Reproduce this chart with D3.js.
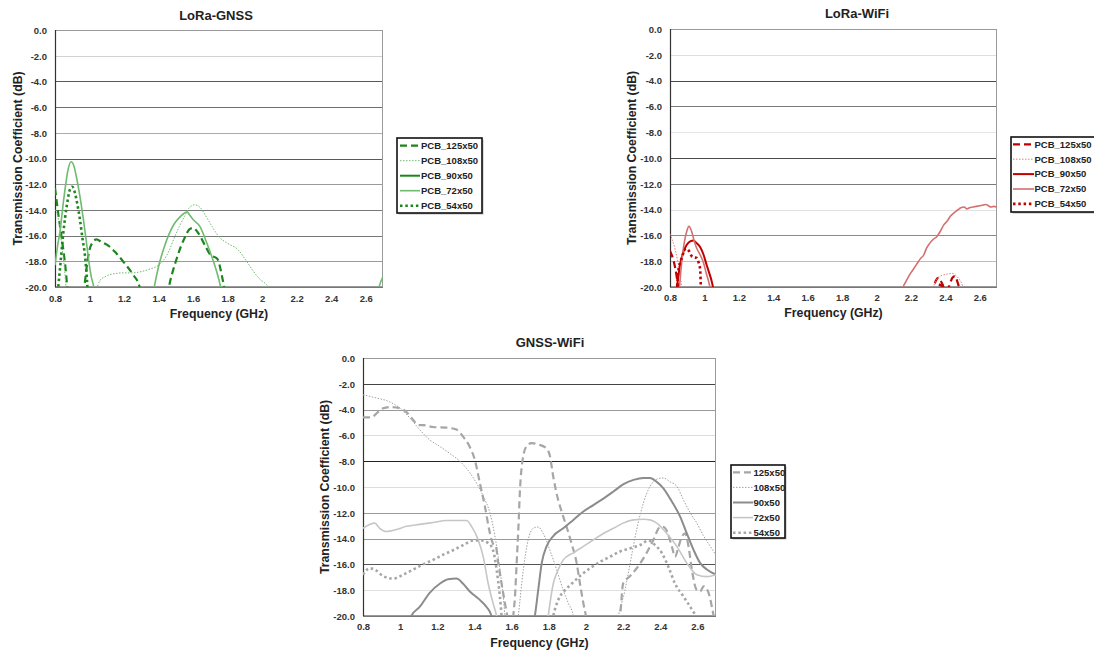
<!DOCTYPE html>
<html>
<head>
<meta charset="utf-8">
<script src="https://cdn.jsdelivr.net/npm/d3@7/dist/d3.min.js"></script>
<style>
  html, body { margin: 0; padding: 0; background: #fff; }
  svg { display: block; font-family: "Liberation Sans", Arial, sans-serif; }
</style>
</head>
<body>
<svg id="chart" width="1094" height="652"></svg>
<script>
// ---------- shared tick labels / categories ----------
const xTicks = [0.8, 1, 1.2, 1.4, 1.6, 1.8, 2, 2.2, 2.4, 2.6];
const xTickLabels = ["0.8", "1", "1.2", "1.4", "1.6", "1.8", "2", "2.2", "2.4", "2.6"];
const yTicks = [0, -2, -4, -6, -8, -10, -12, -14, -16, -18, -20];
const yTickLabels = ["0.0", "-2.0", "-4.0", "-6.0", "-8.0", "-10.0", "-12.0", "-14.0", "-16.0", "-18.0", "-20.0"];
const pcbNames = ["PCB_125x50", "PCB_108x50", "PCB_90x50", "PCB_72x50", "PCB_54x50"];
const shortNames = ["125x50", "108x50", "90x50", "72x50", "54x50"];

// ---------- LoRa-GNSS series: [GHz, dB] (values below -20 dB fall off the plot) ----------
const lgPCB125 = [[0.80,-12.3],[0.82,-14.4],[0.84,-16.3],[0.86,-18.4],[0.875,-20.5],[0.90,-22],[0.95,-22],[0.97,-20],[0.985,-18.3],[1.00,-17.1],[1.02,-16.5],[1.04,-16.3],[1.07,-16.5],[1.10,-16.7],[1.15,-17.3],[1.20,-18.1],[1.25,-19.0],[1.29,-20],[1.31,-21.5],[1.44,-21.5],[1.46,-20],[1.50,-18],[1.55,-16.2],[1.58,-15.5],[1.60,-15.4],[1.63,-15.8],[1.67,-16.8],[1.70,-17.5],[1.74,-17.8],[1.765,-19],[1.785,-20.5],[1.80,-22]];
const lgPCB108 = [[0.80,-14.0],[0.81,-14.2],[0.83,-15.6],[0.84,-16.9],[0.855,-18.6],[0.865,-20.3],[0.88,-22],[1.00,-22],[1.04,-20.2],[1.06,-19.5],[1.09,-19.2],[1.15,-18.95],[1.20,-18.9],[1.25,-18.9],[1.30,-18.8],[1.35,-18.6],[1.40,-18.3],[1.43,-17.9],[1.46,-17.2],[1.49,-16.2],[1.52,-15.3],[1.55,-14.5],[1.58,-13.8],[1.61,-13.6],[1.64,-13.8],[1.67,-14.4],[1.71,-15.3],[1.75,-16.1],[1.80,-16.6],[1.86,-17.1],[1.90,-17.8],[1.94,-18.6],[1.98,-19.3],[2.04,-20.1],[2.07,-21]];
const lgPCB90 = [[0.80,-23],[0.90,-21.5],[1.00,-23]];
const lgPCB72 = [[0.80,-18.3],[0.815,-16.8],[0.83,-15.6],[0.845,-13.8],[0.86,-12.2],[0.875,-10.9],[0.893,-10.25],[0.91,-10.6],[0.925,-11.5],[0.94,-12.6],[0.965,-14.8],[0.98,-16.3],[0.995,-17.9],[1.01,-19.2],[1.027,-20.2],[1.04,-22],[1.35,-22],[1.375,-20],[1.40,-18.4],[1.43,-17.0],[1.46,-15.9],[1.49,-15.1],[1.52,-14.6],[1.545,-14.3],[1.565,-14.15],[1.58,-14.4],[1.60,-14.75],[1.64,-15.3],[1.68,-16.6],[1.72,-18.1],[1.745,-19.2],[1.762,-20.2],[1.78,-22],[2.65,-22],[2.675,-20.1],[2.70,-19.2]];
const lgPCB54 = [[0.80,-22],[0.815,-20.5],[0.83,-18.4],[0.848,-15.8],[0.868,-13.7],[0.887,-12.4],[0.90,-12.2],[0.916,-12.7],[0.93,-13.6],[0.945,-14.8],[0.96,-16.3],[0.974,-17.6],[0.985,-19.4],[0.992,-21],[1.00,-22]];

// ---------- LoRa-WiFi series ----------
const lwPCB125 = [[0.80,-17.2],[0.815,-17.7],[0.83,-18.5],[0.84,-19.3],[0.85,-20.3],[0.87,-22],[2.31,-22],[2.33,-20.2],[2.345,-19.5],[2.36,-19.3],[2.38,-19.7],[2.40,-20.3],[2.42,-20.0],[2.44,-19.3],[2.455,-19.15],[2.47,-19.6],[2.485,-20.4],[2.50,-22]];
const lwPCB108 = [[0.80,-15.9],[0.815,-16.4],[0.83,-17.1],[0.845,-18.0],[0.858,-18.9],[0.868,-20.1],[0.88,-22],[2.31,-22],[2.33,-20.1],[2.35,-19.4],[2.38,-19.1],[2.41,-19.0],[2.44,-18.95],[2.46,-19.1],[2.48,-19.4],[2.50,-19.9],[2.51,-20.5],[2.53,-22]];
const lwPCB90 = [[0.80,-22],[0.83,-21],[0.84,-20],[0.858,-18.3],[0.875,-17.4],[0.89,-16.9],[0.905,-16.6],[0.92,-16.45],[0.936,-16.4],[0.955,-16.6],[0.975,-16.9],[0.995,-17.5],[1.013,-18.3],[1.03,-19.0],[1.043,-19.6],[1.052,-20.3],[1.06,-22]];
const lwPCB72 = [[0.84,-22],[0.855,-20],[0.87,-17.8],[0.885,-16.4],[0.897,-15.7],[0.91,-15.3],[0.926,-15.7],[0.94,-16.4],[0.955,-17.0],[0.975,-17.5],[0.994,-18.1],[1.01,-18.9],[1.025,-19.6],[1.035,-20.2],[1.05,-22],[2.13,-22],[2.155,-20],[2.17,-19.6],[2.19,-19.1],[2.21,-18.7],[2.235,-18.2],[2.255,-17.8],[2.275,-17.5],[2.29,-17.0],[2.31,-16.6],[2.33,-16.3],[2.35,-16.1],[2.37,-15.7],[2.39,-15.2],[2.41,-14.9],[2.43,-14.5],[2.45,-14.25],[2.47,-14.05],[2.49,-13.85],[2.51,-13.8],[2.525,-13.95],[2.54,-13.85],[2.56,-13.8],[2.58,-13.75],[2.60,-13.7],[2.62,-13.65],[2.635,-13.6],[2.65,-13.7],[2.665,-13.8],[2.68,-13.75],[2.70,-13.8]];
const lwPCB54 = [[0.83,-22],[0.84,-20.3],[0.848,-18.8],[0.862,-18.0],[0.877,-17.4],[0.893,-17.0],[0.91,-17.2],[0.926,-17.6],[0.94,-17.7],[0.955,-17.75],[0.968,-18.2],[0.975,-18.6],[0.98,-20.2],[0.99,-22],[2.35,-22],[2.365,-20.1],[2.375,-19.7],[2.385,-20.1],[2.395,-22]];

// ---------- GNSS-WiFi series ----------
const gwPCB125 = [[0.80,-4.6],[0.845,-4.6],[0.88,-4.2],[0.908,-3.9],[0.944,-3.8],[1.00,-3.9],[1.034,-4.2],[1.07,-4.8],[1.097,-5.2],[1.123,-5.2],[1.177,-5.35],[1.249,-5.4],[1.303,-5.55],[1.339,-6.1],[1.375,-6.9],[1.402,-7.9],[1.429,-9.7],[1.456,-11.5],[1.479,-13.3],[1.49,-14.0],[1.50,-14.4],[1.515,-14.6],[1.528,-15.9],[1.546,-17.5],[1.564,-19],[1.576,-20],[1.59,-22],[1.60,-22],[1.609,-20],[1.618,-18.5],[1.627,-15.9],[1.636,-13.3],[1.645,-10.2],[1.659,-7.9],[1.68,-6.85],[1.707,-6.6],[1.743,-6.7],[1.788,-7.0],[1.806,-7.6],[1.824,-9.2],[1.842,-10.5],[1.878,-12.3],[1.896,-13.1],[1.923,-14.4],[1.95,-15.9],[1.968,-17.5],[1.986,-19.0],[2.0,-20],[2.02,-22],[2.16,-22],[2.184,-20],[2.2,-17.5],[2.238,-16.9],[2.273,-16.3],[2.327,-15.1],[2.363,-14.1],[2.399,-13.1],[2.417,-13.1],[2.435,-13.4],[2.462,-14.6],[2.48,-15.4],[2.495,-14.8],[2.515,-13.9],[2.534,-13.6],[2.552,-14.6],[2.57,-16.4],[2.597,-18],[2.615,-18.1],[2.633,-17.7],[2.66,-18.2],[2.678,-19.3],[2.687,-20],[2.70,-21.5]];
const gwPCB108 = [[0.80,-2.85],[0.872,-3.1],[0.944,-3.4],[1.0,-3.9],[1.052,-4.65],[1.105,-5.55],[1.159,-6.35],[1.213,-6.85],[1.267,-7.4],[1.321,-8.0],[1.375,-8.9],[1.411,-9.7],[1.447,-10.7],[1.483,-12.0],[1.51,-13.8],[1.537,-16.4],[1.555,-18.5],[1.564,-20],[1.58,-22],[1.62,-22],[1.636,-20],[1.663,-16.4],[1.689,-14.1],[1.716,-13.2],[1.743,-13.1],[1.77,-13.6],[1.806,-14.9],[1.842,-16.4],[1.878,-18],[1.905,-19],[1.932,-20],[1.95,-22],[2.15,-22],[2.175,-20],[2.21,-18],[2.238,-15.9],[2.273,-13.3],[2.309,-11.25],[2.345,-9.95],[2.381,-9.4],[2.417,-9.3],[2.453,-9.6],[2.489,-9.95],[2.525,-11.0],[2.561,-12.0],[2.597,-12.8],[2.633,-13.8],[2.669,-14.6],[2.70,-15.3]];
const gwPCB90 = [[1.04,-21.5],[1.06,-20],[1.105,-19.3],[1.159,-18.2],[1.213,-17.5],[1.258,-17.15],[1.303,-17.1],[1.339,-17.5],[1.375,-18.1],[1.429,-18.75],[1.465,-19.3],[1.492,-20],[1.51,-21.5],[1.70,-21.5],[1.725,-20],[1.743,-18],[1.762,-15.9],[1.788,-14.6],[1.824,-13.8],[1.878,-13.2],[1.932,-12.55],[1.986,-11.9],[2.04,-11.4],[2.094,-10.9],[2.148,-10.35],[2.2,-9.8],[2.256,-9.45],[2.31,-9.3],[2.345,-9.3],[2.381,-9.6],[2.417,-10.1],[2.453,-10.9],[2.507,-12.3],[2.543,-13.6],[2.58,-14.9],[2.615,-15.9],[2.651,-16.4],[2.70,-16.8]];
const gwPCB72 = [[0.80,-13.2],[0.836,-12.9],[0.863,-12.8],[0.89,-13.2],[0.926,-13.45],[0.98,-13.3],[1.034,-13.05],[1.105,-12.9],[1.177,-12.75],[1.249,-12.6],[1.321,-12.6],[1.357,-12.6],[1.384,-13.05],[1.42,-14.1],[1.447,-15.4],[1.474,-17.5],[1.50,-19.0],[1.519,-20],[1.54,-22],[1.78,-22],[1.797,-20],[1.824,-17.5],[1.851,-16.4],[1.878,-15.65],[1.932,-15.1],[1.986,-14.6],[2.04,-14.1],[2.094,-13.6],[2.148,-13.2],[2.2,-12.8],[2.256,-12.55],[2.31,-12.5],[2.345,-12.55],[2.381,-12.8],[2.435,-13.6],[2.489,-14.6],[2.543,-15.9],[2.597,-16.8],[2.651,-16.95],[2.70,-16.8]];
const gwPCB54 = [[0.80,-16.8],[0.836,-16.3],[0.863,-16.4],[0.908,-16.9],[0.962,-17.1],[1.016,-16.8],[1.07,-16.4],[1.123,-16.0],[1.177,-15.65],[1.231,-15.25],[1.285,-14.9],[1.339,-14.5],[1.393,-14.15],[1.438,-14.15],[1.474,-14.35],[1.50,-14.9],[1.519,-16.4],[1.537,-18.5],[1.546,-20],[1.56,-22],[1.80,-22],[1.824,-20],[1.851,-18.75],[1.887,-18],[1.923,-17.5],[1.968,-16.9],[2.022,-16.3],[2.076,-15.8],[2.13,-15.4],[2.184,-15.0],[2.238,-14.75],[2.291,-14.5],[2.336,-14.15],[2.372,-14.5],[2.408,-15.1],[2.444,-16.2],[2.48,-17.5],[2.525,-18.5],[2.57,-19.5],[2.588,-20],[2.61,-22]];

// ---------- styles ----------
const seriesStyle = [
  { tone: "dark",  width: 2.2, dash: "7,4" },
  { tone: "light", width: 1.0, dash: "1.5,1.5" },
  { tone: "dark",  width: 2.0, dash: null },
  { tone: "light", width: 1.6, dash: null },
  { tone: "dark",  width: 2.6, dash: "2.5,2.8" }
];

const charts = [
  {
    id: "lg", title: "LoRa-GNSS", series: [lgPCB125, lgPCB108, lgPCB90, lgPCB72, lgPCB54], names: pcbNames,
    colors: ["#1c861c", "#6fbb6f", "#1c861c", "#6fbb6f", "#1c861c"],
    plot: { l: 55, r: 383, t: 30, b: 287 },
    titlePos: [216, 15], yLabelX: 47, xLabelY: 299, xTitleY: 314, yTitleX: 18,
    grid: ["#d2d2d2", "#5a5a5a", "#6e6e6e", "#ababab", "#5a5a5a", "#9a9a9a", "#777", "#777", "#9a9a9a"],
    legend: { x: 397, y: 138, w: 85, h: 75, row0: 145.7, step: 15, lx0: 400, lx1: 420, tx: 421 }
  },
  {
    id: "lw", title: "LoRa-WiFi", series: [lwPCB125, lwPCB108, lwPCB90, lwPCB72, lwPCB54], names: pcbNames,
    colors: ["#c00000", "#d98080", "#c00000", "#d47070", "#c00000"],
    plot: { l: 670, r: 997, t: 29, b: 287 },
    titlePos: [857, 13], yLabelX: 662, xLabelY: 298, xTitleY: 313, yTitleX: 632,
    grid: ["#dedede", "#4a4a4a", "#7a7a7a", "#e6e6e6", "#4a4a4a", "#7a7a7a", "#e2e2e2", "#8a8a8a", "#bdbdbd"],
    legend: { x: 1011, y: 137, w: 84, h: 75, row0: 144.3, step: 14.9, lx0: 1013, lx1: 1034, tx: 1034.5 }
  },
  {
    id: "gw", title: "GNSS-WiFi", series: [gwPCB125, gwPCB108, gwPCB90, gwPCB72, gwPCB54], names: shortNames,
    colors: ["#a6a6a6", "#a0a0a0", "#8c8c8c", "#c6c6c6", "#a6a6a6"],
    plot: { l: 363, r: 716, t: 358, b: 616 },
    titlePos: [550, 342], yLabelX: 355, xLabelY: 627, xTitleY: 643, yTitleX: 325,
    grid: ["#454545", "#999", "#dcdcdc", "#222", "#dcdcdc", "#9a9a9a", "#9a9a9a", "#555", "#e0e0e0"],
    legend: { x: 731, y: 465, w: 54, h: 73, row0: 472.3, step: 15.1, lx0: 733, lx1: 753, tx: 753.5 }
  }
];

const svg = d3.select("#chart");

charts.forEach(c => {
  const p = c.plot;
  const x = d3.scaleLinear().domain([0.8, 2.7]).range([p.l, p.r]);
  const y = d3.scaleLinear().domain([-20, 0]).range([p.b, p.t]);
  const g = svg.append("g");

  // clip
  svg.append("clipPath").attr("id", "clip-" + c.id)
    .append("rect").attr("x", p.l).attr("y", p.t).attr("width", p.r - p.l).attr("height", p.b - p.t);

  // grid lines (inner ticks)
  const inner = yTicks.filter(v => v < 0 && v > -20);
  g.append("g").selectAll("line").data(inner).join("line")
    .attr("x1", p.l).attr("x2", p.r)
    .attr("y1", d => Math.round(y(d)) + 0.5).attr("y2", d => Math.round(y(d)) + 0.5)
    .attr("stroke", (d, i) => c.grid[i]).attr("stroke-width", 1);

  // frame
  g.append("rect").attr("x", p.l + 0.5).attr("y", p.t + 0.5)
    .attr("width", p.r - p.l - 1).attr("height", p.b - p.t - 1)
    .attr("fill", "none").attr("stroke", "#9a9a9a").attr("stroke-width", 1);

  // y axis (labels only)
  const yAxis = d3.axisLeft(y).tickValues(yTicks).tickSize(0)
    .tickFormat((d, i) => yTickLabels[i]);
  const ya = g.append("g").attr("transform", `translate(${c.yLabelX},0)`).call(yAxis);
  ya.select(".domain").remove();
  ya.selectAll("text").attr("x", 0).attr("dy", "0.35em")
    .style("font-size", "9.5px").style("font-weight", "bold").attr("fill", "#333")
    .style("font-family", "'Liberation Sans', Arial, sans-serif");

  // x axis (labels only)
  const xAxis = d3.axisBottom(x).tickValues(xTicks).tickSize(0)
    .tickFormat((d, i) => xTickLabels[i]);
  const xa = g.append("g").attr("transform", `translate(0,${c.xLabelY})`).call(xAxis);
  xa.select(".domain").remove();
  xa.selectAll("text").attr("y", 0).attr("dy", "0.35em")
    .style("font-size", "9.5px").style("font-weight", "bold").attr("fill", "#333")
    .style("font-family", "'Liberation Sans', Arial, sans-serif");

  // left & bottom spines
  g.append("line").attr("x1", p.l + 0.5).attr("x2", p.l + 0.5).attr("y1", p.t).attr("y2", p.b)
    .attr("stroke", "#333").attr("stroke-width", 1.2);
  g.append("line").attr("x1", p.l).attr("x2", p.r).attr("y1", p.b + 0.5).attr("y2", p.b + 0.5)
    .attr("stroke", "#777").attr("stroke-width", 1.2);

  // series
  const line = d3.line().x(d => x(d[0])).y(d => y(d[1])).curve(d3.curveMonotoneX);
  const sg = g.append("g").attr("clip-path", `url(#clip-${c.id})`);
  c.series.forEach((s, i) => {
    const st = seriesStyle[i];
    sg.append("path").datum(s).attr("d", line)
      .attr("fill", "none").attr("stroke", c.colors[i])
      .attr("stroke-width", st.width)
      .attr("stroke-dasharray", st.dash)
      .attr("stroke-linejoin", "round");
  });

  // titles
  g.append("text").attr("x", c.titlePos[0]).attr("y", c.titlePos[1]).attr("dy", "0.35em")
    .attr("text-anchor", "middle").style("font-size", "13px").style("font-weight", "bold").attr("fill", "#222")
    .text(c.title);
  g.append("text").attr("x", (p.l + p.r) / 2).attr("y", c.xTitleY).attr("dy", "0.35em")
    .attr("text-anchor", "middle").style("font-size", "12.3px").style("font-weight", "bold").attr("fill", "#222")
    .text("Frequency (GHz)");
  g.append("text").attr("transform", `translate(${c.yTitleX},${(p.t + p.b) / 2}) rotate(-90)`)
    .attr("dy", "0.35em").attr("text-anchor", "middle")
    .style("font-size", "12.3px").style("font-weight", "bold").attr("fill", "#222")
    .text("Transmission Coefficient (dB)");

  // legend
  const L = c.legend;
  const lg = g.append("g");
  lg.append("rect").attr("x", L.x + 1.5).attr("y", L.y + 1.5).attr("width", L.w).attr("height", L.h)
    .attr("fill", "#bbb");
  lg.append("rect").attr("x", L.x).attr("y", L.y).attr("width", L.w).attr("height", L.h)
    .attr("fill", "#fff").attr("stroke", "#111").attr("stroke-width", 1.6);
  c.names.forEach((n, i) => {
    const st = seriesStyle[i];
    const yy = L.row0 + i * L.step;
    lg.append("line").attr("x1", L.lx0).attr("x2", L.lx1).attr("y1", yy).attr("y2", yy)
      .attr("stroke", c.colors[i]).attr("stroke-width", st.width).attr("stroke-dasharray", st.dash);
    lg.append("text").attr("x", L.tx).attr("y", yy).attr("dy", "0.35em")
      .style("font-size", "9.5px").style("font-weight", "bold").attr("fill", "#222")
      .text(n);
  });
});
</script>
</body>
</html>
